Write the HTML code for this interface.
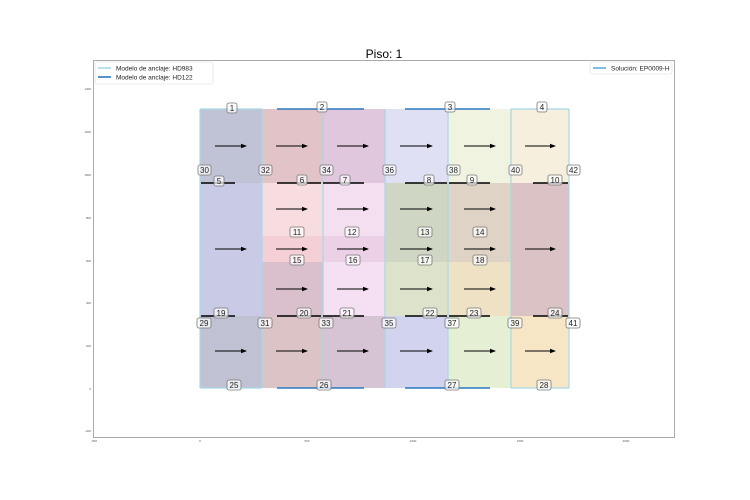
<!DOCTYPE html>
<html><head><meta charset="utf-8"><style>body{margin:0;background:#fff}svg{display:block;font-family:"Liberation Sans",sans-serif}</style></head><body>
<svg width="750" height="500" viewBox="0 0 750 500" xmlns="http://www.w3.org/2000/svg">
<defs><marker id="a" markerWidth="6" markerHeight="6" refX="5" refY="3" orient="auto" markerUnits="userSpaceOnUse"><path d="M0,0.8L6,3L0,5.2z" fill="#000"/></marker></defs>
<text x="384" y="58" font-size="12" text-anchor="middle">Piso: 1</text>
<rect x="93.5" y="60.5" width="581" height="377" fill="none" stroke="#aaa" stroke-width="1"/>
<g font-size="3" fill="#555" text-anchor="end">
<text x="91" y="90">1400</text><text x="91" y="133">1200</text><text x="91" y="176">1000</text><text x="91" y="219">800</text><text x="91" y="262">600</text><text x="91" y="304">400</text><text x="91" y="347">200</text><text x="91" y="390">0</text><text x="91" y="432">-200</text>
</g>
<g font-size="3" fill="#555" text-anchor="middle">
<text x="94" y="442">-500</text><text x="200" y="442">0</text><text x="307" y="442">500</text><text x="413" y="442">1000</text><text x="520" y="442">1500</text><text x="626" y="442">2000</text>
</g>
<rect x="200" y="109" width="62" height="74" fill="#c0c2d6"/>
<rect x="262" y="109" width="61" height="74" fill="#e2c4c8"/>
<rect x="323" y="109" width="62" height="74" fill="#e0c7dd"/>
<rect x="385" y="109" width="63" height="74" fill="#dfe0f3"/>
<rect x="448" y="109" width="63" height="74" fill="#eff3df"/>
<rect x="511" y="109" width="58" height="74" fill="#f6efdd"/>
<rect x="200" y="183" width="62" height="133" fill="#c9cae5"/>
<rect x="262" y="183" width="61" height="53" fill="#f8dde0"/>
<rect x="262" y="236" width="61" height="26" fill="#f4cfd5"/>
<rect x="262" y="262" width="61" height="54" fill="#d9c0cc"/>
<rect x="323" y="183" width="62" height="53" fill="#f4dff0"/>
<rect x="323" y="236" width="62" height="26" fill="#ecd0e6"/>
<rect x="323" y="262" width="62" height="54" fill="#f4e0f2"/>
<rect x="385" y="183" width="63" height="79" fill="#cfd6c4"/>
<rect x="385" y="262" width="63" height="54" fill="#dde2cb"/>
<rect x="448" y="183" width="63" height="79" fill="#ded3c4"/>
<rect x="448" y="262" width="63" height="54" fill="#efe1c3"/>
<rect x="511" y="183" width="58" height="133" fill="#dbc2c4"/>
<rect x="200" y="316" width="62" height="72" fill="#c0c2d3"/>
<rect x="262" y="316" width="61" height="72" fill="#dcc3c6"/>
<rect x="323" y="316" width="62" height="72" fill="#d6c3d4"/>
<rect x="385" y="316" width="63" height="72" fill="#d1d3ef"/>
<rect x="448" y="316" width="63" height="72" fill="#e5efd3"/>
<rect x="511" y="316" width="58" height="72" fill="#f6e6c6"/>
<g stroke="#a8d8e6" stroke-width="1.2" fill="none">
<path d="M200,109V388M262,109V388M323,109V388M385,109V388M448,109V388M511,109V388M569,109V388"/>
<path d="M200,109H262M511,109H569M200,388H262M511,388H569"/>
</g>
<g stroke="#000" stroke-width="1.5">
<path d="M201,183H235M277,183H321M323,183H364M405,183H447M449,183H490M533,183H568"/>
<path d="M201,316H235M277,316H321M323,316H364M405,316H447M449,316H490M533,316H568"/>
</g>
<g stroke="#2a78c0" stroke-width="1.5">
<path d="M277,109H364M405,109H490M277,388H364M405,388H490"/>
</g>
<g stroke="#000" stroke-width="1" marker-end="url(#a)">
<line x1="215" y1="146" x2="246" y2="146"/><line x1="276" y1="146" x2="307" y2="146"/><line x1="337" y1="146" x2="368" y2="146"/><line x1="400" y1="146" x2="432" y2="146"/><line x1="464" y1="146" x2="495" y2="146"/><line x1="525" y1="146" x2="555" y2="146"/>
<line x1="276" y1="209" x2="307" y2="209"/><line x1="337" y1="209" x2="368" y2="209"/><line x1="400" y1="209" x2="432" y2="209"/><line x1="464" y1="209" x2="495" y2="209"/>
<line x1="215" y1="249" x2="246" y2="249"/><line x1="276" y1="249" x2="307" y2="249"/><line x1="337" y1="249" x2="368" y2="249"/><line x1="400" y1="249" x2="432" y2="249"/><line x1="464" y1="249" x2="495" y2="249"/><line x1="525" y1="249" x2="555" y2="249"/>
<line x1="276" y1="289" x2="307" y2="289"/><line x1="337" y1="289" x2="368" y2="289"/><line x1="400" y1="289" x2="432" y2="289"/><line x1="464" y1="289" x2="495" y2="289"/>
<line x1="215" y1="351" x2="246" y2="351"/><line x1="276" y1="351" x2="307" y2="351"/><line x1="337" y1="351" x2="368" y2="351"/><line x1="400" y1="351" x2="432" y2="351"/><line x1="464" y1="351" x2="495" y2="351"/><line x1="525" y1="351" x2="555" y2="351"/>
</g>
<g font-size="8" fill="#222" text-anchor="middle" stroke-width="0.8">
<g stroke="#777" fill="#fff" fill-opacity="0.7">
<rect x="227" y="103" width="10" height="10" rx="2"/><rect x="317" y="102" width="10" height="10" rx="2"/><rect x="445" y="102" width="10" height="10" rx="2"/><rect x="537" y="102" width="10" height="10" rx="2"/>
<rect x="198" y="165" width="13" height="10" rx="2"/><rect x="259" y="165" width="13" height="10" rx="2"/><rect x="320" y="165" width="13" height="10" rx="2"/><rect x="383" y="165" width="13" height="10" rx="2"/><rect x="447" y="165" width="13" height="10" rx="2"/><rect x="509" y="165" width="13" height="10" rx="2"/><rect x="567" y="165" width="13" height="10" rx="2"/>
<rect x="214" y="176" width="10" height="10" rx="2"/><rect x="297" y="175" width="10" height="10" rx="2"/><rect x="340" y="175" width="10" height="10" rx="2"/><rect x="424" y="175" width="10" height="10" rx="2"/><rect x="467" y="175" width="10" height="10" rx="2"/><rect x="548" y="175" width="14" height="10" rx="2"/>
<rect x="290" y="227" width="14" height="10" rx="2"/><rect x="345" y="227" width="14" height="10" rx="2"/><rect x="418" y="227" width="14" height="10" rx="2"/><rect x="473" y="227" width="14" height="10" rx="2"/>
<rect x="290" y="255" width="14" height="10" rx="2"/><rect x="346" y="255" width="14" height="10" rx="2"/><rect x="418" y="255" width="14" height="10" rx="2"/><rect x="473" y="255" width="14" height="10" rx="2"/>
<rect x="214" y="308" width="14" height="10" rx="2"/><rect x="297" y="308" width="14" height="10" rx="2"/><rect x="340" y="308" width="14" height="10" rx="2"/><rect x="423" y="308" width="14" height="10" rx="2"/><rect x="467" y="308" width="14" height="10" rx="2"/><rect x="548" y="308" width="14" height="10" rx="2"/>
<rect x="197" y="318" width="14" height="10" rx="2"/><rect x="258" y="318" width="14" height="10" rx="2"/><rect x="319" y="318" width="14" height="10" rx="2"/><rect x="382" y="318" width="14" height="10" rx="2"/><rect x="445" y="318" width="14" height="10" rx="2"/><rect x="508" y="318" width="14" height="10" rx="2"/><rect x="566" y="318" width="14" height="10" rx="2"/>
<rect x="227" y="380" width="14" height="10" rx="2"/><rect x="317" y="380" width="14" height="10" rx="2"/><rect x="445" y="380" width="14" height="10" rx="2"/><rect x="537" y="380" width="14" height="10" rx="2"/>
</g>
<text x="232" y="111">1</text><text x="322" y="110">2</text><text x="450" y="110">3</text><text x="542" y="110">4</text>
<text x="204.5" y="173">30</text><text x="265.5" y="173">32</text><text x="326.5" y="173">34</text><text x="389.5" y="173">36</text><text x="453.5" y="173">38</text><text x="515.5" y="173">40</text><text x="573.5" y="173">42</text>
<text x="219" y="184">5</text><text x="302" y="183">6</text><text x="345" y="183">7</text><text x="429" y="183">8</text><text x="472" y="183">9</text><text x="555" y="183">10</text>
<text x="297" y="235">11</text><text x="352" y="235">12</text><text x="425" y="235">13</text><text x="480" y="235">14</text>
<text x="297" y="263">15</text><text x="353" y="263">16</text><text x="425" y="263">17</text><text x="480" y="263">18</text>
<text x="221" y="316">19</text><text x="304" y="316">20</text><text x="347" y="316">21</text><text x="430" y="316">22</text><text x="474" y="316">23</text><text x="555" y="316">24</text>
<text x="204" y="326">29</text><text x="265" y="326">31</text><text x="326" y="326">33</text><text x="389" y="326">35</text><text x="452" y="326">37</text><text x="515" y="326">39</text><text x="573" y="326">41</text>
<text x="234" y="388">25</text><text x="324" y="388">26</text><text x="452" y="388">27</text><text x="544" y="388">28</text>
</g>
<rect x="95" y="62" width="118" height="22" fill="#fff" stroke="#ddd" stroke-width="0.6" rx="2"/>
<path d="M98,68H111" stroke="#a8d8e6" stroke-width="1.6"/>
<path d="M98,77H111" stroke="#2a78c0" stroke-width="1.6"/>
<g font-size="6.5" fill="#222"><text x="116" y="70.5">Modelo de anclaje: HD983</text><text x="116" y="79.5">Modelo de anclaje: HD122</text>
<rect x="590" y="62" width="82" height="12" fill="#fff" stroke="#ddd" stroke-width="0.6" rx="2"/>
<path d="M593,68H606" stroke="#5aaee0" stroke-width="1.6"/>
<text x="611" y="70.5">Solución: EP0009-H</text></g>
</svg>
</body></html>
